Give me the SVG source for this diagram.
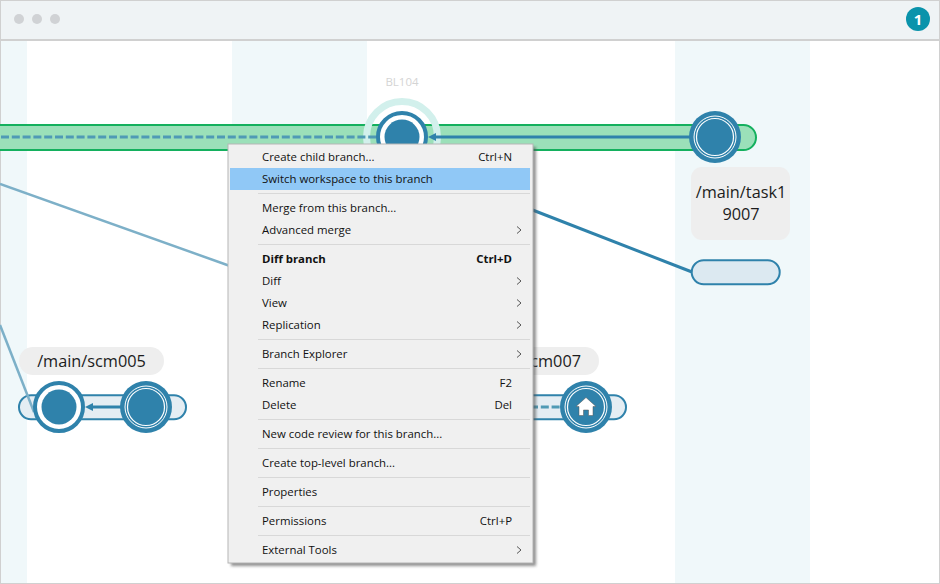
<svg xmlns="http://www.w3.org/2000/svg" width="940" height="584" viewBox="0 0 940 584">
<style>
text{font-family:"Open Sans","Noto Sans","Liberation Sans",sans-serif}
.lane{fill:#f0f8fa}
.dark{fill:#2f82ab}
.ring{fill:none;stroke:#fff}
.pill{fill:#e4edf3;stroke:#2f82ab;stroke-width:2}
.lbl{fill:#eeeeee}
.lt{font-size:16.300px;fill:#1c1c1c;text-anchor:middle}
.edge{fill:none;stroke:#2f82ab;stroke-width:3}
.dash{fill:none;stroke:#4f9ab5;stroke-width:3;stroke-dasharray:8 2.8}
.m{font-size:11.400px;fill:#111}
.b{font-weight:700}
.s{text-anchor:end}
.sep{stroke:#d8d8d8;stroke-width:1}
.chev{fill:none;stroke:#555;stroke-width:1}
</style>
<defs>
<marker id="ah" markerUnits="userSpaceOnUse" markerWidth="10" markerHeight="10" refX="1" refY="5" orient="auto"><path d="M1 1L9 5L1 9Z" fill="#2f82ab"/></marker>
<filter id="sh" x="-5%" y="-5%" width="115%" height="115%"><feGaussianBlur stdDeviation="1.500"/></filter>
</defs>
<rect width="940" height="584" fill="#fff"/>
<rect class="lane" x="0" y="40" width="27" height="544"/>
<rect class="lane" x="232" y="40" width="135" height="140"/>
<rect class="lane" x="675" y="40" width="135" height="544"/>
<g id="titlebar">
<rect x="0" y="0" width="940" height="40" fill="#eff3f5"/>
<rect x="0" y="39" width="940" height="2" fill="#d0d0d0"/>
<circle cx="19" cy="19" r="5" fill="#d0d2d5"/><circle cx="37" cy="19" r="5" fill="#d0d2d5"/><circle cx="55" cy="19" r="5" fill="#d0d2d5"/>
<circle cx="918" cy="19" r="12" fill="#0a93ab"/>
<text x="918" y="24.500" font-size="15" font-weight="700" fill="#fff" text-anchor="middle">1</text>
</g>
<rect x="0.500" y="0.500" width="939" height="583" fill="none" stroke="#d0d0d0"/>
<g id="main-branch"><rect x="-30" y="125" width="786" height="25" rx="12.500" fill="#9be0b9" stroke="#14b05e" stroke-width="2"/></g>
<g id="task-pill"><rect class="pill" x="691.700" y="260.300" width="88" height="24" rx="12" style="fill:#dce9f1"/></g>
<g id="scm005-pill"><rect class="pill" x="19" y="395.300" width="167" height="24" rx="12"/></g>
<g id="scm007-pill"><rect class="pill" x="500" y="395.300" width="126" height="24" rx="12"/></g>
<g id="bl104-halo"><circle cx="402" cy="137" r="35.500" fill="none" stroke="#d2f0ec" stroke-width="7"/></g>
<g id="connectors">
<path d="M0 184L230 266" fill="none" stroke="#7db0c8" stroke-width="2.500"/>
<path d="M0 325L34 412" fill="none" stroke="#7db0c8" stroke-width="2.500"/>
<path d="M530 209L692 272" class="edge"/>
<path class="dash" d="M1 137H377"/>
<path class="edge" d="M690 137H436" marker-end="url(#ah)"/>
<path class="edge" d="M121 407H93" marker-end="url(#ah)"/>
<path class="dash" d="M530 407H562"/>
</g>
<g id="bl104">
<text x="402" y="86" font-size="11.500" fill="#d4d4d4" text-anchor="middle">BL104</text>
<circle cx="402" cy="137" r="24" fill="#fff" stroke="#2f82ab" stroke-width="4"/>
<circle cx="402" cy="137" r="17.500" class="dark"/>
</g>
<g id="task-node">
<circle cx="715" cy="137" r="26" class="dark"/>
<circle cx="715" cy="137" r="21" class="ring" stroke-width="1"/>
<circle cx="715" cy="137" r="18.500" class="ring" stroke-width="1.200"/>
</g>
<g id="task-label">
<rect class="lbl" x="691" y="167" width="99" height="73" rx="11"/>
<text class="lt" x="741" y="198">/main/task1</text>
<text class="lt" x="741" y="220">9007</text>
</g>
<g id="scm005">
<rect class="lbl" x="19" y="347" width="145" height="28" rx="14"/>
<text class="lt" x="91.500" y="366.500">/main/scm005</text>
<circle cx="59" cy="407" r="24" fill="#fff" stroke="#2f82ab" stroke-width="4"/>
<circle cx="59" cy="407" r="17.500" class="dark"/>
<circle cx="146" cy="407" r="26" class="dark"/>
<circle cx="146" cy="407" r="21" class="ring" stroke-width="1"/>
<circle cx="146" cy="407" r="18.500" class="ring" stroke-width="1.200"/>
</g>
<g id="scm007">
<rect class="lbl" x="500" y="347" width="99" height="28" rx="14"/>
<text x="581" y="366.500" font-size="16.300" fill="#1c1c1c" text-anchor="end">/main/scm007</text>
<circle cx="586" cy="407" r="26" class="dark"/>
<circle cx="586" cy="407" r="21" class="ring" stroke-width="1"/>
<circle cx="586" cy="407" r="18.500" class="ring" stroke-width="1.200"/>
<path d="M586 397.500L596 406.500H593V415.500H588.500V410H583.500V415.500H579V406.500H576Z" fill="#fff" stroke="#555" stroke-width="0.500"/>
</g>
<g id="context-menu">
<rect x="231" y="147" width="305" height="419" fill="#555" opacity="0.650" filter="url(#sh)"/>
<rect x="228" y="144" width="305" height="419" fill="#f0f0f0" stroke="#b5b5b5"/>
<rect x="230" y="168" width="300" height="22" fill="#90c8f6"/>
<path class="sep" d="M258 193.500H530M258 244.500H530M258 339.500H530M258 368.500H530M258 419.500H530M258 448.500H530M258 477.500H530M258 506.500H530M258 535.500H530"/>
<text class="m" x="262" y="161">Create child branch...</text><text class="m s" x="512" y="161">Ctrl+N</text>
<text class="m" x="262" y="183">Switch workspace to this branch</text>
<text class="m" x="262" y="212">Merge from this branch...</text>
<text class="m" x="262" y="234">Advanced merge</text>
<text class="m b" x="262" y="263">Diff branch</text><text class="m b s" x="512" y="263">Ctrl+D</text>
<text class="m" x="262" y="285">Diff</text>
<text class="m" x="262" y="307">View</text>
<text class="m" x="262" y="329">Replication</text>
<text class="m" x="262" y="358">Branch Explorer</text>
<text class="m" x="262" y="387">Rename</text><text class="m s" x="512" y="387">F2</text>
<text class="m" x="262" y="409">Delete</text><text class="m s" x="512" y="409">Del</text>
<text class="m" x="262" y="438">New code review for this branch...</text>
<text class="m" x="262" y="467">Create top-level branch...</text>
<text class="m" x="262" y="496">Properties</text>
<text class="m" x="262" y="525">Permissions</text><text class="m s" x="512" y="525">Ctrl+P</text>
<text class="m" x="262" y="554">External Tools</text>
<path class="chev" d="M517 226.500L521 230L517 233.500M517 277.500L521 281L517 284.500M517 299.500L521 303L517 306.500M517 321.500L521 325L517 328.500M517 350.500L521 354L517 357.500M517 546.500L521 550L517 553.500"/>
</g>
</svg>
